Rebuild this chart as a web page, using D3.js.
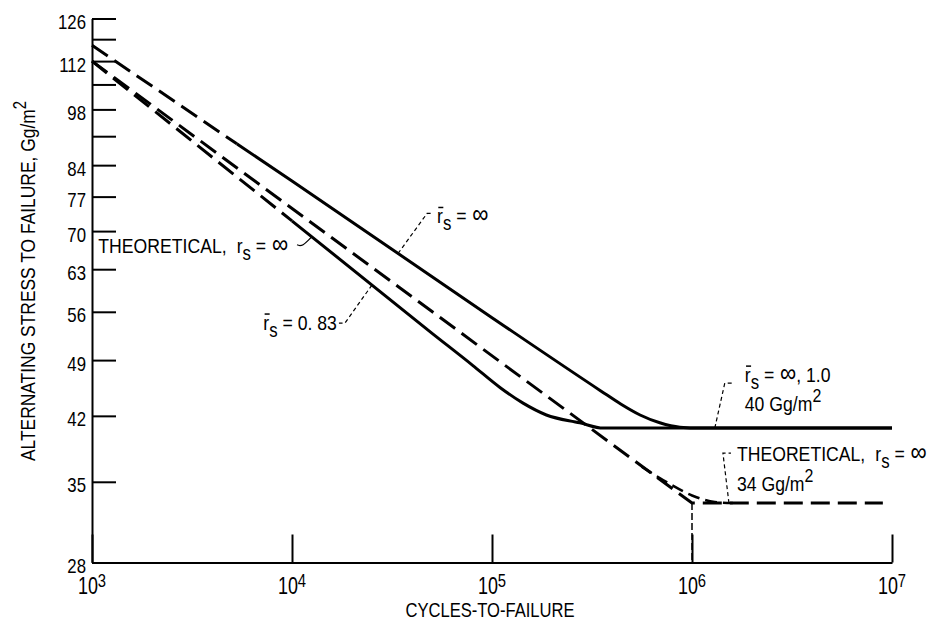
<!DOCTYPE html>
<html>
<head>
<meta charset="utf-8">
<script src="https://cdn.jsdelivr.net/npm/d3@7"></script>
<style>
  body { margin: 0; background: #fff; }
  svg { font-family: "Liberation Sans", Arial, sans-serif; }
</style>
</head>
<body>
<div id="chart-area"></div>
<script>
// tick values
const xTicks = [1e3, 1e4, 1e5, 1e6, 1e7];
const yTicks = [28, 35, 42, 49, 56, 63, 70, 77, 84, 91, 98, 105, 112, 119, 126];
const yLabelled = [28, 35, 42, 49, 56, 63, 70, 77, 84, 98, 112, 126];

// [cycles, stress Gg/m2]
const rInfExtrap = [[1e3, 117], [5.3e3, 89.1]];
const rInf = [[5.3e3, 89.1], [1e4, 80.4], [1e5, 55.1], [3.5e5, 45.0], [4.4e5, 43.4],
  [5.5e5, 42.1], [6.9e5, 41.2], [8.7e5, 40.7], [1.1e6, 40.6], [1e7, 40.6]];
const r083Extrap = [[1e3, 112], [1e4, 72.0]];
const r083 = [[1e4, 72.0], [5e4, 52.8], [8e4, 48.3], [1.1e5, 45.4], [1.43e5, 43.5],
  [1.87e5, 42.1], [2.75e5, 41.2], [3.6e5, 40.6], [1e7, 40.6]];
const theory = [[1e3, 112], [1e6, 33], [9e6, 33]];
const theoryKnee = [[5.6e5, 36.5], [7.9e5, 34.7], [1e6, 33.7], [1.3e6, 33.1], [1.6e6, 33]];
const kneeDrop = [[1e6, 33], [1e6, 28]];

const width = 932, height = 625;
const narrow = 0.8; // squeeze glyphs to look like a condensed face

const x = d3.scaleLog().domain([1e3, 1e7]).range([92, 892]);
const y = d3.scaleLog().domain([28, 126]).range([562.5, 18.5]);

const svg = d3.select("#chart-area")
  .append("svg")
    .attr("width", width)
    .attr("height", height);

// axes
const xAxis = svg.append("g")
  .attr("transform", "translate(0," + y(28) + ")")
  .call(d3.axisBottom(x).tickValues(xTicks).tickSize(-28).tickSizeOuter(0).tickFormat(""));

const yAxis = svg.append("g")
  .attr("transform", "translate(" + x(1e3) + ",0)")
  .call(d3.axisLeft(y).tickValues(yTicks).tickSize(-24).tickSizeOuter(0)
    .tickFormat(d => yLabelled.includes(d) ? d : ""));

[xAxis, yAxis].forEach(a => {
  a.attr("font-family", null);
  a.select(".domain").attr("stroke", "#000").attr("stroke-width", 2);
  a.selectAll(".tick line").attr("stroke", "#000").attr("stroke-width", 2);
});
yAxis.selectAll(".tick text")
  .attr("x", 0)
  .attr("dy", "0.5em")
  .attr("transform", "translate(-6,0) scale(0.84,1)")
  .attr("fill", "#000")
  .style("font-size", "20px");

// text helper: parts may carry sub / sup / bar (overbar)
const label = (px, py, parts, opt) => {
  opt = opt || {};
  const size = opt.size || 21;
  const sx = opt.sx || narrow;
  const g = svg.append("g")
    .attr("transform", "translate(" + px + "," + py + ")" + (opt.rotate ? " rotate(" + opt.rotate + ")" : ""));
  const t = g.append("text")
    .attr("transform", "scale(" + sx + ",1)")
    .attr("text-anchor", opt.anchor || "start")
    .style("font-size", size + "px");
  let shift = 0, idx = 0;
  const bars = [];
  parts.forEach(p => {
    const want = p.sub ? 7 : p.sup ? -(p.raise || 8) : 0;
    const s = t.append("tspan").attr("dy", want - shift).text(p.t);
    if (p.dx) s.attr("dx", p.dx);
    if (p.size) s.style("font-size", p.size + "px");
    if (p.bar) bars.push(idx);
    idx += p.t.length;
    shift = want;
  });
  bars.forEach(i => {
    const e = t.node().getExtentOfChar(i);
    g.append("line")
      .attr("x1", (e.x + 1.5) * sx).attr("x2", (e.x + e.width + 0.5) * sx)
      .attr("y1", e.y + 3.5).attr("y2", e.y + 3.5)
      .attr("stroke", "#000").attr("stroke-width", 1.5);
  });
  return t;
};

// decade labels 10^n
xTicks.forEach(d => {
  label(x(d), 594, [{t: "10"}, {t: String(Math.round(Math.log10(d))), sup: true, raise: 7, size: 19}],
    {anchor: "middle", size: 23, sx: 0.78});
});

// axis titles
label(490, 617, [{t: "CYCLES-TO-FAILURE"}], {anchor: "middle", size: 21, sx: 0.79});
label(35, 281, [{t: "ALTERNATING  STRESS  TO  FAILURE,  Gg/m"}, {t: "2", sup: true, raise: 9, size: 18}],
  {anchor: "middle", size: 21, sx: 0.83, rotate: -90});

// curves
const line = d3.line()
  .x(d => x(d[0]))
  .y(d => y(d[1]))
  .curve(d3.curveMonotoneX);

const drawCurve = (data, dash, w) => svg.append("path")
  .datum(data)
  .attr("d", line)
  .attr("fill", "none")
  .attr("stroke", "#000")
  .attr("stroke-width", w || 3)
  .attr("stroke-dasharray", dash || null);

drawCurve(rInfExtrap, "19,8");
drawCurve(rInf);
drawCurve(r083Extrap, "19,8");
drawCurve(r083);
svg.append("path")
  .datum(theory)
  .attr("d", d3.line().x(d => x(d[0])).y(d => y(d[1])))
  .attr("fill", "none")
  .attr("stroke", "#000")
  .attr("stroke-width", 3)
  .attr("stroke-dasharray", "19,8");
drawCurve(theoryKnee, "12,6", 2.5);
drawCurve(kneeDrop, "7,3", 1.5);

const leader = (pts, dash) => svg.append("path")
  .attr("d", d3.line()(pts))
  .attr("fill", "none")
  .attr("stroke", "#000")
  .attr("stroke-width", 1.2)
  .attr("stroke-dasharray", dash || null);

const inf = {t: "∞", size: 27, dx: 1};
const sub = {t: "s", sub: true, size: 20};
const ann = {sx: 0.84};

// THEORETICAL, r_s = inf (left)
let a = [x(1.26e4), y(68.9)];
svg.append("path")
  .attr("d", `M${a[0] - 15},${a[1] + 8} C${a[0] - 9},${a[1] + 11} ${a[0] - 5},${a[1] + 4} ${a[0]},${a[1]}`)
  .attr("fill", "none").attr("stroke", "#000").attr("stroke-width", 1.2);
label(a[0] - 24, a[1] + 16, [{t: "THEORETICAL,"}, {t: "r", dx: 12}, sub, {t: " = "}, inf],
  {anchor: "end", sx: 0.84});

// r-bar_s = inf
a = [x(3.39e4), y(65.8)];
leader([a, [a[0] + 29, a[1] - 40], [a[0] + 35, a[1] - 40]], "4,3");
label(a[0] + 39, a[1] - 30, [{t: "r", bar: true}, sub, {t: " = "}, inf], ann);

// r-bar_s = 0.83
a = [x(2.51e4), y(60.3)];
leader([a, [a[0] - 27, a[1] + 38], [a[0] - 33, a[1] + 38]], "4,3");
label(a[0] - 35, a[1] + 45, [{t: "r", bar: true}, sub, {t: " = 0.  83"}], {anchor: "end", sx: 0.84});

// r-bar_s = inf, 1.0 / 40 Gg/m2
a = [x(1.3e6), y(40.6)];
leader([a, [a[0] + 10, a[1] - 45], [a[0] + 18, a[1] - 45]], "4,3");
label(a[0] + 30, a[1] - 46, [{t: "r", bar: true}, sub, {t: " = "}, inf, {t: ",  1.0"}], ann);
label(a[0] + 30, a[1] - 17, [{t: "40  Gg/m"}, {t: "2", sup: true, raise: 9, size: 19}], ann);

// THEORETICAL, r_s = inf / 34 Gg/m2 (right)
a = [x(1.53e6), y(33)];
leader([a, [a[0] - 6, a[1] - 50], [a[0] + 2, a[1] - 50]], "4,3");
label(a[0] + 8, a[1] - 42, [{t: "THEORETICAL,"}, {t: "r", dx: 12}, sub, {t: " = "}, inf], ann);
label(a[0] + 8, a[1] - 12, [{t: "34  Gg/m"}, {t: "2", sup: true, raise: 9, size: 19}], ann);
</script>
</body>
</html>
